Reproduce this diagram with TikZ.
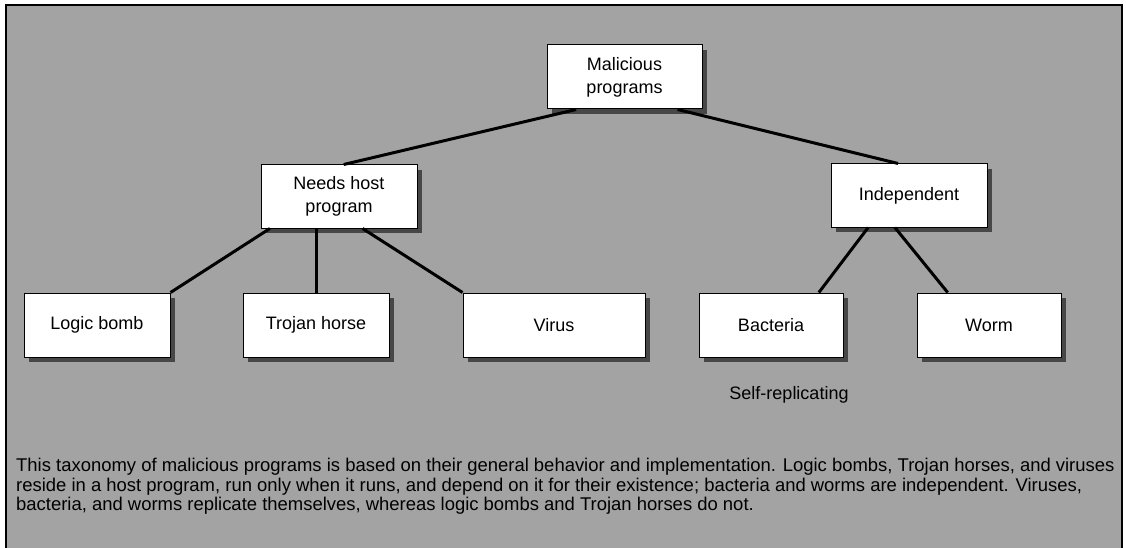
\documentclass[tikz,border=0pt]{standalone}
\usepackage{fontspec}
\setmainfont{Liberation Sans}
\usetikzlibrary{positioning,calc,shadows}
\newcommand{\boxsize}{\fontsize{18}{23}\selectfont}
\newcommand{\capsize}{\fontsize{18.45}{19.5}\selectfont}
\tikzset{
  panel/.style={fill=black!36},
  frame/.style={line width=1.2pt},
  taxbox/.style={draw=black,line width=1pt,fill=white,inner sep=0pt,
    minimum height=64pt,align=center,font=\boxsize,
    drop shadow={shadow xshift=5pt,shadow yshift=-5pt,fill=black!72,opacity=1}},
  branch/.style={line width=3pt},
}
\begin{document}
\begin{tikzpicture}[x=1pt,y=-1pt]
  \useasboundingbox (0,0) rectangle (1126,548);
  \fill[panel] (6,5) rectangle (1122,548);
  \draw[frame] (6,548) -- (6,5) -- (1122,5) -- (1122,548);
  % root and the two classes
  \node[taxbox,minimum width=155pt] (mal) at (624.5,77) {Malicious\\programs};
  \node[taxbox,minimum width=156pt,minimum height=63pt] (need) at (339,196.5) {Needs host\\program};
  \node[taxbox,minimum width=156pt,minimum height=63pt] (indep) at (909,195.5) {Independent};
  % leaves
  \node[taxbox,minimum width=146pt] (logic) at (97,325) {Logic bomb};
  \node[taxbox,minimum width=146pt] (trojan) at (316,325) {Trojan horse};
  \node[taxbox,minimum width=182pt] (virus) at (554,325) {Virus};
  \node[taxbox,minimum width=144pt] (bact) at (771,325) {Bacteria};
  \node[taxbox,minimum width=144pt] (worm) at (989,325) {Worm};
  % tree branches
  \draw[branch] ($(mal.south west)!0.19!(mal.south east)$) -- ($(need.north west)!0.53!(need.north east)$);
  \draw[branch] ($(mal.south west)!0.84!(mal.south east)$) -- ($(indep.north west)!0.43!(indep.north east)$);
  \draw[branch] ($(need.south west)!0.06!(need.south east)$) -- (logic.north east);
  \draw[branch] (need.south -| trojan.north) -- (trojan.north);
  \draw[branch] ($(need.south west)!0.65!(need.south east)$) -- (virus.north west);
  \draw[branch] ($(indep.south west)!0.24!(indep.south east)$) -- ($(bact.north west)!0.83!(bact.north east)$);
  \draw[branch] ($(indep.south west)!0.41!(indep.south east)$) -- ($(worm.north west)!0.215!(worm.north east)$);
  \node[font=\boxsize] (selfrep) at (789,395) {Self-replicating};
  \node[anchor=north west,align=left,font=\capsize,inner sep=0pt] (caption) at (16,458)
    {This taxonomy of malicious programs is based on their general behavior and implementation. Logic bombs, Trojan horses, and viruses\\
     reside in a host program, run only when it runs, and depend on it for their existence; bacteria and worms are independent. Viruses,\\
     bacteria, and worms replicate themselves, whereas logic bombs and Trojan horses do not.};
\end{tikzpicture}
\end{document}
